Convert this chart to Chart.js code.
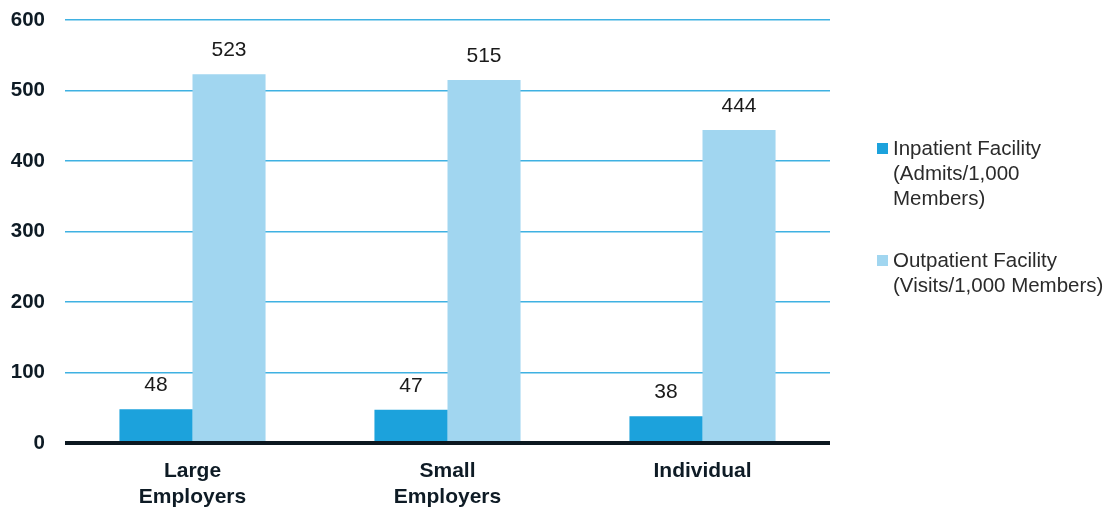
<!DOCTYPE html>
<html>
<head>
<meta charset="utf-8">
<script src="https://cdn.jsdelivr.net/npm/chart.js@4"></script>
<style>
  html, body { margin: 0; padding: 0; background: #fff; }
  #wrap { position: relative; width: 1107px; height: 508px; }
  #legend { position: absolute; left: 877px; top: 135px; font-family: "Liberation Sans", Arial, sans-serif;
            font-size: 20.5px; color: #2b2b2b; line-height: 25px; }
  .item { position: relative; padding-left: 16px; }
  .item + .item { margin-top: 37px; }
  .sw { position: absolute; left: 0; top: 8px; width: 11px; height: 11px; }
</style>
</head>
<body>
<div id="wrap">
  <canvas id="chart" width="1107" height="508"></canvas>
  <div id="legend"></div>
</div>
<script>
// categorias y series
const categories = [["Large", "Employers"], ["Small", "Employers"], "Individual"];
const inpatient = [48, 47, 38];
const outpatient = [523, 515, 444];
const seriesLabels = [
    ["Inpatient Facility", "(Admits/1,000", "Members)"],
    ["Outpatient Facility", "(Visits/1,000 Members)"],
];
const yTicks = [0, 100, 200, 300, 400, 500, 600];

const colors = {
    inpatient: "#1ca2dc",
    outpatient: "#a1d6f0",
    grid: "#3fb1e2",
    text: "#0e1b25",
};

// --- plugin: valores encima de las barras ---
const valueLabels = {
    id: "valueLabels",
    afterDatasetsDraw(chart) {
        const { ctx } = chart;
        ctx.save();
        ctx.font = '21px "Liberation Sans", Arial, sans-serif';
        ctx.fillStyle = "#1a1a1a";
        ctx.textAlign = "center";
        ctx.textBaseline = "middle";
        chart.data.datasets.forEach((ds, i) => {
            chart.getDatasetMeta(i).data.forEach((bar, j) => {
                ctx.fillText(String(ds.data[j]), bar.x, bar.y - 24);
            });
        });
        ctx.restore();
    },
};

new Chart(document.getElementById("chart"), {
    type: "bar",
    data: {
        labels: categories,
        datasets: [
            { label: seriesLabels[0].join(" "), data: inpatient, backgroundColor: colors.inpatient },
            { label: seriesLabels[1].join(" "), data: outpatient, backgroundColor: colors.outpatient },
        ],
    },
    options: {
        responsive: false,
        animation: false,
        layout: { padding: { top: 20, right: 277, left: 0, bottom: 0 } },
        datasets: { bar: { categoryPercentage: 0.573, barPercentage: 1.0 } },
        plugins: { legend: { display: false }, tooltip: { enabled: false } },
        scales: {
            x: {
                grid: { display: false },
                border: { display: false },
                ticks: {
                    color: colors.text,
                    font: { family: "Liberation Sans", size: 21, weight: "bold", lineHeight: 1.2 },
                    padding: 8,
                },
                afterFit(scale) { scale.height = 65; },
            },
            y: {
                min: 0,
                max: 600,
                afterBuildTicks(scale) { scale.ticks = yTicks.map(v => ({ value: v })); },
                border: { display: false },
                grid: {
                    color: ctx => (ctx.tick && ctx.tick.value === 0 ? "#0c1820" : colors.grid),
                    lineWidth: ctx => (ctx.tick && ctx.tick.value === 0 ? 4 : 1.5),
                    drawTicks: true,
                    tickLength: 20,
                    tickColor: "rgba(0,0,0,0)",
                },
                ticks: {
                    color: colors.text,
                    font: { family: "Liberation Sans", size: 20.5, weight: "bold" },
                    padding: 0,
                },
                afterFit(scale) { scale.width = 65; },
            },
        },
    },
    plugins: [valueLabels],
});

// leyenda en HTML (texto multilinea)
const legend = document.getElementById("legend");
[colors.inpatient, colors.outpatient].forEach((c, i) => {
    const item = document.createElement("div");
    item.className = "item";
    item.innerHTML = '<span class="sw" style="background:' + c + '"></span>' + seriesLabels[i].join("<br>");
    legend.appendChild(item);
});
</script>
</body>
</html>
